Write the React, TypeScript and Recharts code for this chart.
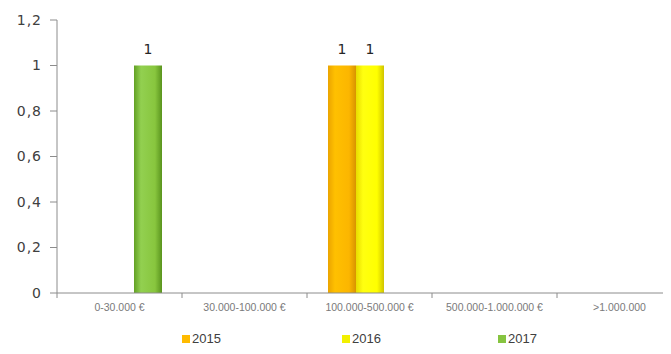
import { Bar, BarChart, LabelList, XAxis, YAxis } from "recharts";

const categories = [
	"0-30.000 €",
	"30.000-100.000 €",
	"100.000-500.000 €",
	"500.000-1.000.000 €",
	">1.000.000",
];
const values2015 = [null, null, 1, null, null];
const values2016 = [null, null, 1, null, null];
const values2017 = [1, null, null, null, null];
const yTicks = [0, 0.2, 0.4, 0.6, 0.8, 1, 1.2];

const series = [
	{ key: "2015", values: values2015, fill: "url(#g2015)", swatch: "#ffbb00" },
	{ key: "2016", values: values2016, fill: "url(#g2016)", swatch: "#f2f000" },
	{ key: "2017", values: values2017, fill: "url(#g2017)", swatch: "#86c440" },
];

const data = categories.map((name, i) => ({
	name,
	"2015": values2015[i],
	"2016": values2016[i],
	"2017": values2017[i],
}));

const W = 690;
const H = 354;
const Y_W = 57;
const M_RIGHT = 8;
const band = (W - Y_W - M_RIGHT) / categories.length;
const legendLeft = [182, 342, 498];

const font = "'DejaVu Sans', sans-serif";

function CategoryTick(props: any) {
	const { x, y, payload } = props;
	return (
		<g>
			<line
				x1={x - band / 2}
				x2={x - band / 2}
				y1={y - 5}
				y2={y}
				stroke="#8c8c8c"
			/>
			<text
				x={x}
				y={y + 13}
				textAnchor="middle"
				fontSize={10.5}
				fill="#7a7a7a"
				fontFamily="'Liberation Sans', sans-serif"
			>
				{payload.value}
			</text>
		</g>
	);
}

export default function App() {
	return (
		<div
			style={{
				position: "relative",
				margin: -8,
				width: 671,
				height: H,
				overflow: "hidden",
				background: "#fff",
			}}
		>
			<BarChart
				width={W}
				height={H}
				data={data}
				margin={{ top: 20, right: M_RIGHT, bottom: 31, left: 0 }}
				barSize={28}
				barGap={0}
			>
				<defs>
					<linearGradient id="g2015" x1="0" y1="0" x2="1" y2="0">
						<stop offset="0%" stopColor="#eba400" />
						<stop offset="25%" stopColor="#ffc000" />
						<stop offset="75%" stopColor="#fcb600" />
						<stop offset="100%" stopColor="#d89400" />
					</linearGradient>
					<linearGradient id="g2016" x1="0" y1="0" x2="1" y2="0">
						<stop offset="0%" stopColor="#e8dc00" />
						<stop offset="25%" stopColor="#ffff10" />
						<stop offset="75%" stopColor="#ffff00" />
						<stop offset="100%" stopColor="#d0c400" />
					</linearGradient>
					<linearGradient id="g2017" x1="0" y1="0" x2="1" y2="0">
						<stop offset="0%" stopColor="#62a024" />
						<stop offset="25%" stopColor="#92d050" />
						<stop offset="75%" stopColor="#88c63e" />
						<stop offset="100%" stopColor="#5a941e" />
					</linearGradient>
				</defs>
				<XAxis
					dataKey="name"
					height={30}
					tickLine={false}
					tickSize={5}
					tickMargin={0}
					tick={<CategoryTick />}
					axisLine={{ stroke: "#8c8c8c" }}
					interval={0}
				/>
				<YAxis
					width={Y_W}
					domain={[0, 1.2]}
					ticks={yTicks}
					interval={0}
					tickSize={7}
					tickMargin={8}
					axisLine={{ stroke: "#8c8c8c" }}
					tickLine={{ stroke: "#8c8c8c" }}
					tick={{
						fontSize: 14,
						fill: "#404040",
						fontFamily: font,
						letterSpacing: 1,
					}}
					tickFormatter={(v) => String(v).replace(".", ",")}
				/>
				{series.map((s) => (
					<Bar
						key={s.key}
						dataKey={s.key}
						fill={s.fill}
						isAnimationActive={false}
					>
						<LabelList
							dataKey={s.key}
							position="top"
							offset={12}
							fontSize={14}
							fill="#262626"
							fontFamily={font}
						/>
					</Bar>
				))}
			</BarChart>
			{series.map((s, i) => (
				<div
					key={s.key}
					style={{
						position: "absolute",
						left: legendLeft[i],
						top: 331,
						display: "flex",
						alignItems: "center",
						fontFamily: "'Liberation Sans', sans-serif",
						fontSize: 13,
						lineHeight: "15px",
						color: "#404040",
					}}
				>
					<span
						style={{
							display: "inline-block",
							width: 8,
							height: 8,
							background: s.swatch,
							marginRight: 2,
						}}
					/>
					{s.key}
				</div>
			))}
		</div>
	);
}
